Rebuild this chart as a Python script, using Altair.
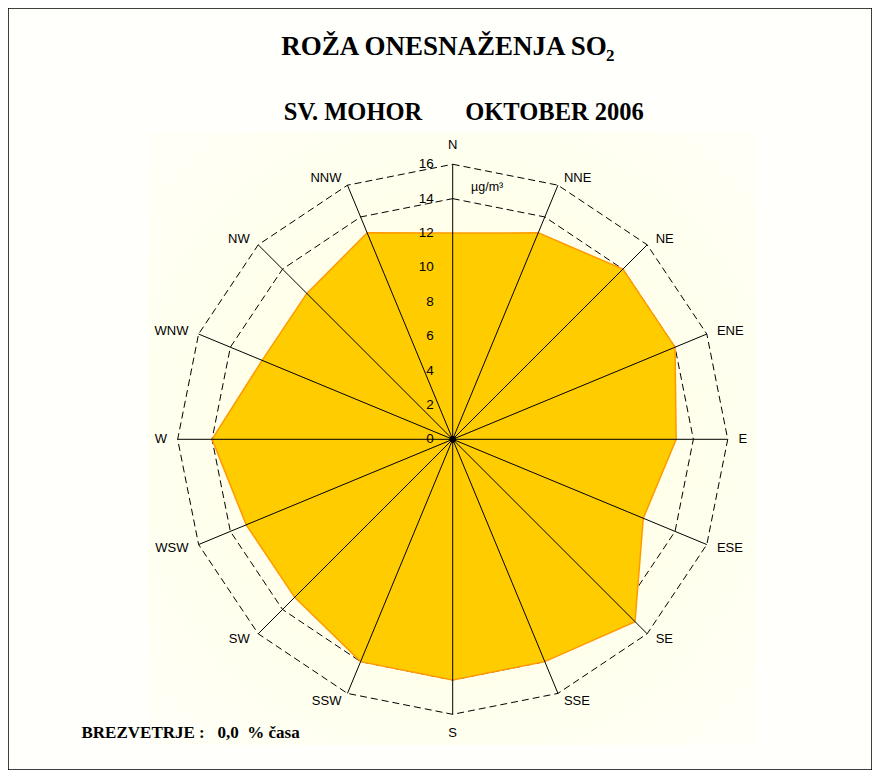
import altair as alt
import pandas as pd
import numpy as np

# ---------------- data ----------------
directions = ["N", "NNE", "NE", "ENE", "E", "ESE", "SE", "SSE",
              "S", "SSW", "SW", "WSW", "W", "WNW", "NW", "NNW"]
so2 = [12, 13, 14, 14, 13, 12, 15, 14, 14, 14, 13, 13, 14, 12, 12, 13]
ring_levels = [14, 16]
tick_values = [0, 2, 4, 6, 8, 10, 12, 14, 16]
tick_labels = [str(v) for v in tick_values]
r_max = 16

NB = "\u00a0"
title_main = "ROŽA ONESNAŽENJA SO"
title_sub = "2"
station = "SV. MOHOR"
period = "OKTOBER 2006"
unit_label = "µg/m³"
footnote = "BREZVETRJE" + NB + ":" + NB * 3 + "0,0" + NB * 2 + "%" + NB + "časa"

# ---------------- geometry helpers ----------------
W, H = 864, 762
cx, cy = 444.7, 431.3      # centre of the rose in view pixels
k = 17.19                  # pixels per unit
x_dom = [-cx / k, (W - cx) / k]
y_dom = [-(H - cy) / k, cy / k]

ang = np.deg2rad(np.arange(len(directions)) * 22.5)
sn, cs = np.sin(ang), np.cos(ang)

poly = pd.DataFrame({"o": range(len(directions)),
                     "x": np.array(so2) * sn, "y": np.array(so2) * cs})

ring_rows = []
for lv in ring_levels:
    for i in range(len(directions)):
        ring_rows.append({"lv": lv, "o": i, "x": lv * sn[i], "y": lv * cs[i]})
rings = pd.DataFrame(ring_rows)

spokes = pd.DataFrame({"x": 0.0, "y": 0.0, "x2": r_max * sn, "y2": r_max * cs})

r_lab = np.where(np.abs(sn) < 1e-9, 17.1, 16.45)
labs = pd.DataFrame({"t": directions, "x": r_lab * sn, "y": r_lab * cs, "s": sn})
labs_l = labs[labs.s > 1e-9]
labs_r = labs[labs.s < -1e-9]
labs_c = labs[np.abs(labs.s) <= 1e-9]

ticks = pd.DataFrame({"y": tick_values, "t": tick_labels, "x": 0.0})
centre = pd.DataFrame({"x": [0.0], "y": [0.0]})

xs = alt.Scale(domain=x_dom, nice=False, zero=False)
ys = alt.Scale(domain=y_dom, nice=False, zero=False)
X = lambda f="x": alt.X(f"{f}:Q", scale=xs, axis=None)
Y = lambda f="y": alt.Y(f"{f}:Q", scale=ys, axis=None)

base = alt.Chart(pd.DataFrame({"a": [0]}))

grad = base.mark_rect(fill={
    "gradient": "radial",
    "x1": 0.5, "y1": 0.5, "r1": 0.0,
    "x2": 0.5, "y2": 0.5, "r2": 0.72,
    "stops": [{"offset": 0, "color": "#FFFFDC"},
              {"offset": 1, "color": "#FFFFF9"}]}).encode(
    x=alt.value(140), x2=alt.value(748), y=alt.value(124), y2=alt.value(737))

ring_layer = alt.Chart(rings).mark_line(
    interpolate="linear-closed", color="black", strokeWidth=1,
    strokeDash=[7, 4]).encode(x=X(), y=Y(), detail="lv:N", order="o:Q")

fill_layer = alt.Chart(poly).mark_line(
    interpolate="linear-closed", fill="#FFCC00", stroke="#FF9A00",
    strokeWidth=1.5).encode(x=X(), y=Y(), order="o:Q")

spoke_layer = alt.Chart(spokes).mark_rule(color="black", strokeWidth=1).encode(
    x=X(), y=Y(), x2="x2:Q", y2="y2:Q")

dot = alt.Chart(centre).mark_point(filled=True, color="black", size=45, opacity=1).encode(
    x=X(), y=Y())

tick_layer = alt.Chart(ticks).mark_text(
    align="right", baseline="middle", dx=-19, font="Liberation Sans",
    fontSize=13.5, color="black").encode(x=X(), y=Y(), text="t:N")

lab_kw = dict(baseline="middle", font="Liberation Sans", fontSize=13, color="black")
lab_left = alt.Chart(labs_l).mark_text(align="left", dx=3, **lab_kw).encode(
    x=X(), y=Y(), text="t:N")
lab_right = alt.Chart(labs_r).mark_text(align="right", dx=-3, **lab_kw).encode(
    x=X(), y=Y(), text="t:N")
lab_centre = alt.Chart(labs_c).mark_text(align="center", **lab_kw).encode(
    x=X(), y=Y(), text="t:N")

serif = "Liberation Serif"
t1 = base.mark_text(text=title_main, font=serif, fontSize=27, fontWeight="bold",
                    align="center", baseline="alphabetic", color="black").encode(
    x=alt.value(436), y=alt.value(47))
t1s = base.mark_text(text=title_sub, font=serif, fontSize=17, fontWeight="bold",
                     align="left", baseline="alphabetic", color="black").encode(
    x=alt.value(598), y=alt.value(53))
t2 = base.mark_text(text=station, font=serif, fontSize=24.5, fontWeight="bold",
                    align="center", baseline="alphabetic", color="black").encode(
    x=alt.value(345), y=alt.value(112))
t3 = base.mark_text(text=period, font=serif, fontSize=24.5, fontWeight="bold",
                    align="center", baseline="alphabetic", color="black").encode(
    x=alt.value(546.5), y=alt.value(112))
unit = base.mark_text(text=unit_label, font="Liberation Sans", fontSize=12.5,
                      align="left", baseline="middle", color="black").encode(
    x=alt.value(463), y=alt.value(179))
foot = base.mark_text(text=footnote, font=serif, fontSize=17, fontWeight="bold",
                      align="left", baseline="alphabetic", color="black").encode(
    x=alt.value(73.5), y=alt.value(729.5))

chart = alt.layer(
    grad, ring_layer, fill_layer, spoke_layer, dot, tick_layer,
    lab_left, lab_right, lab_centre, t1, t1s, t2, t3, unit, foot
).properties(width=W, height=H, padding=0, background="white").configure_view(
    stroke="black", strokeWidth=1.5, fill="#FFFFFB")

chart.save("out.html", embed_options={"renderer": "svg", "actions": False})
